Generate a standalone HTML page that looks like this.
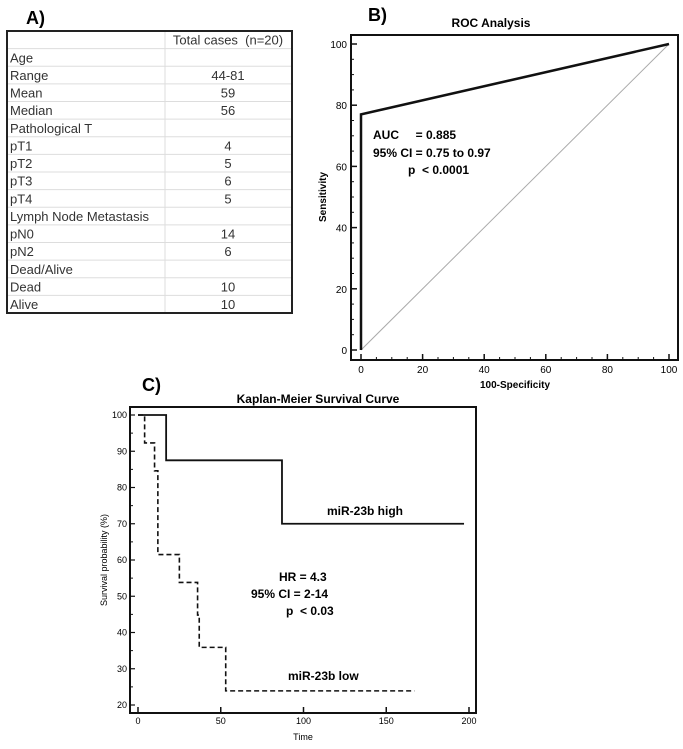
<!DOCTYPE html>
<html><head><meta charset="utf-8"><style>
body{margin:0;background:#fff;font-family:"Liberation Sans",Arial,sans-serif}
svg text{font-family:"Liberation Sans",Arial,sans-serif;white-space:pre}
</style></head><body>
<svg width="683" height="744" xmlns="http://www.w3.org/2000/svg">
<g id="table"></g>
<g id="roc"></g>
<g id="km"></g>
</svg>
<script>
const tableLabels=["","Age","Range","Mean","Median","Pathological T","pT1","pT2","pT3","pT4","Lymph Node Metastasis","pN0","pN2","Dead/Alive","Dead","Alive"];
const tableValues=["Total cases  (n=20)","","44-81","59","56","","4","5","6","5","","14","6","","10","10"];
const rocFpr=[0,0,100];
const rocTpr=[0,77,100];
const rocTicks=[0,20,40,60,80,100];
const kmHighT=[0,17,87,197];
const kmHighS=[100,87.5,70,70];
const kmLowT=[0,4,10,12,25,36,37,53,167];
const kmLowS=[100,92.3,84.6,61.5,53.8,44.8,35.9,23.9,23.9];
const kmXTicks=[0,50,100,150,200];
const kmYTicks=[20,30,40,50,60,70,80,90,100];
const NS="http://www.w3.org/2000/svg";
function mk(p,tag,a,txt){const e=document.createElementNS(NS,tag);for(const k in a)e.setAttribute(k,a[k]);if(txt!==undefined)e.textContent=txt;p.appendChild(e);return e;}

// Table
const T=document.getElementById('table');
let e=mk(T,'text',{x:26,y:24,'font-size':18,'font-weight':'bold'},'A)');


const tx0=7,tx1=292,ty0=31,ty1=313,colX=165,rh=(ty1-ty0)/tableLabels.length;
for(let i=0;i<tableLabels.length;i++){
  const y=ty0+rh*i;
  if(i>0){const l=mk(T,'line',{x1:tx0,x2:tx1,y1:y,y2:y,stroke:'#ddd','stroke-width':1});
  
  }
  const a=mk(T,'text',{x:10,y:y+rh-4,'font-size':13,fill:'#333'},tableLabels[i]);
  
  
  const b=mk(T,'text',{x:228,y:y+rh-4,'font-size':13,fill:'#333','text-anchor':'middle'},tableValues[i]);
  
  
}
e=mk(T,'line',{x1:colX,x2:colX,y1:ty0,y2:ty1,stroke:'#ddd'});


e=mk(T,'rect',{x:tx0,y:ty0,width:tx1-tx0,height:ty1-ty0,fill:'none',stroke:'#222','stroke-width':2});



// ROC
const R=document.getElementById('roc');
const rx=v=>361+v*3.08, ry=v=>350-v*3.06;
e=mk(R,'text',{x:368,y:21,'font-size':18,'font-weight':'bold'},'B)');


e=mk(R,'text',{x:491,y:27,'font-size':12,'font-weight':'bold','text-anchor':'middle'},'ROC Analysis');


e=mk(R,'rect',{x:351,y:35,width:327,height:325,fill:'none',stroke:'#111','stroke-width':2});


for(let v=5;v<100;v+=5){
  let t=mk(R,'line',{x1:351,x2:354,y1:ry(v),y2:ry(v),stroke:'#111','stroke-width':1});
  
  
  t=mk(R,'line',{x1:rx(v),x2:rx(v),y1:360,y2:357,stroke:'#111','stroke-width':1});
  
  
}
rocTicks.forEach(v=>{
  let t=mk(R,'line',{x1:351,x2:357,y1:ry(v),y2:ry(v),stroke:'#111','stroke-width':1.5});
  
  
  t=mk(R,'text',{x:347,y:ry(v)+4,'font-size':10,'text-anchor':'end'},v);
  
  
  t=mk(R,'line',{x1:rx(v),x2:rx(v),y1:360,y2:354,stroke:'#111','stroke-width':1.5});
  
  
  t=mk(R,'text',{x:rx(v),y:373,'font-size':10,'text-anchor':'middle'},v);
  
  
});
e=mk(R,'text',{x:515,y:388,'font-size':10,'font-weight':'bold','text-anchor':'middle'},'100-Specificity');


e=mk(R,'text',{x:0,y:0,'font-size':10,'font-weight':'bold','text-anchor':'middle',transform:'translate(326,197) rotate(-90)'},'Sensitivity');


e=mk(R,'line',{x1:rx(0),y1:ry(0),x2:rx(100),y2:ry(100),stroke:'#aaa','stroke-width':1});


e=mk(R,'polyline',{points:rocFpr.map((v,i)=>rx(v)+','+ry(rocTpr[i])).join(' '),fill:'none',stroke:'#111','stroke-width':2.5});


[['AUC     = 0.885',373,139],['95% CI = 0.75 to 0.97',373,157],['p  < 0.0001',408,174]].forEach(a=>{
  const t=mk(R,'text',{x:a[1],y:a[2],'font-size':12,'font-weight':'bold'},a[0]);
  
  
});

// KM
const K=document.getElementById('km');
const kx=v=>138+v*1.655, ky=v=>705-(v-20)*3.625;
e=mk(K,'text',{x:142,y:391,'font-size':18,'font-weight':'bold'},'C)');


e=mk(K,'text',{x:318,y:403,'font-size':12,'font-weight':'bold','text-anchor':'middle'},'Kaplan-Meier Survival Curve');


e=mk(K,'rect',{x:130,y:407,width:346,height:306,fill:'none',stroke:'#111','stroke-width':2});


for(let v=25;v<100;v+=10){
  const t=mk(K,'line',{x1:130,x2:133,y1:ky(v),y2:ky(v),stroke:'#111','stroke-width':1});
  
  
}
kmYTicks.forEach(v=>{
  let t=mk(K,'line',{x1:130,x2:135,y1:ky(v),y2:ky(v),stroke:'#111','stroke-width':1.2});
  
  
  t=mk(K,'text',{x:127,y:ky(v)+3,'font-size':9,'text-anchor':'end'},v);
  
  
});
kmXTicks.forEach(v=>{
  let t=mk(K,'line',{x1:kx(v),x2:kx(v),y1:713,y2:707,stroke:'#111','stroke-width':1.5});
  
  
  t=mk(K,'text',{x:kx(v),y:724,'font-size':9,'text-anchor':'middle'},v);
  
  
});
e=mk(K,'text',{x:303,y:740,'font-size':9,'text-anchor':'middle'},'Time');


e=mk(K,'text',{x:0,y:0,'font-size':9,'text-anchor':'middle',transform:'translate(107,560) rotate(-90)'},'Survival probability (%)');


function steps(ts,ss){let p=[];for(let i=0;i<ts.length;i++){if(i>0)p.push(kx(ts[i])+','+ky(ss[i-1]));p.push(kx(ts[i])+','+ky(ss[i]));}return p.join(' ');}
e=mk(K,'polyline',{points:steps(kmHighT,kmHighS),fill:'none',stroke:'#111','stroke-width':1.8});


e=mk(K,'polyline',{points:steps(kmLowT,kmLowS),fill:'none',stroke:'#111','stroke-width':1.6,'stroke-dasharray':'5,3'});


e=mk(K,'text',{x:327,y:515,'font-size':12,'font-weight':'bold'},'miR-23b high');


e=mk(K,'text',{x:288,y:680,'font-size':12,'font-weight':'bold'},'miR-23b low');


[['HR = 4.3',279,581],['95% CI = 2-14',251,598],['p  < 0.03',286,615]].forEach(a=>{
  const t=mk(K,'text',{x:a[1],y:a[2],'font-size':12,'font-weight':'bold'},a[0]);
  
  
});
</script>
</body></html>
